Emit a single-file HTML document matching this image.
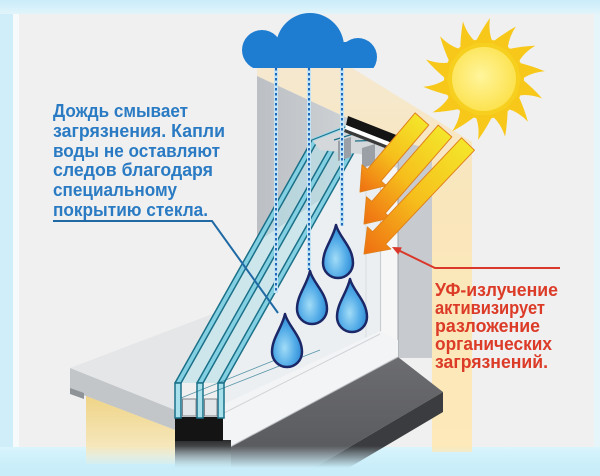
<!DOCTYPE html>
<html><head><meta charset="utf-8">
<style>
html,body{margin:0;padding:0;background:#d3effa;width:600px;height:476px;overflow:hidden}
svg{display:block}
</style></head>
<body>
<svg xmlns="http://www.w3.org/2000/svg" width="600" height="476" viewBox="0 0 600 476">
<defs>
  <linearGradient id="topband" x1="0" y1="0" x2="0" y2="14" gradientUnits="userSpaceOnUse">
    <stop offset="0" stop-color="#c9ecf9"/><stop offset="1" stop-color="#e2f4fa"/>
  </linearGradient>
  <linearGradient id="botband" x1="0" y1="447" x2="0" y2="476" gradientUnits="userSpaceOnUse">
    <stop offset="0" stop-color="#dbf5fc"/><stop offset="1" stop-color="#bce8f8"/>
  </linearGradient>
  <linearGradient id="fade" x1="0" y1="446" x2="0" y2="468" gradientUnits="userSpaceOnUse">
    <stop offset="0" stop-color="#d6f3fc" stop-opacity="0"/><stop offset="1" stop-color="#c9eefa" stop-opacity="1"/>
  </linearGradient>
  <linearGradient id="wallY" x1="0" y1="395" x2="0" y2="462" gradientUnits="userSpaceOnUse">
    <stop offset="0" stop-color="#efd486"/><stop offset="1" stop-color="#f8eccb"/>
  </linearGradient>
  <linearGradient id="beige" x1="0" y1="68" x2="0" y2="450" gradientUnits="userSpaceOnUse">
    <stop offset="0" stop-color="#f5e8cf"/><stop offset="0.35" stop-color="#f9e6ba"/><stop offset="1" stop-color="#fde9b9"/>
  </linearGradient>
  <linearGradient id="greyL" x1="257" y1="0" x2="356" y2="0" gradientUnits="userSpaceOnUse">
    <stop offset="0" stop-color="#bcc0c4"/><stop offset="1" stop-color="#cfd3d6"/>
  </linearGradient>
  <linearGradient id="sill" x1="0" y1="357" x2="0" y2="476" gradientUnits="userSpaceOnUse">
    <stop offset="0" stop-color="#6c6d71"/><stop offset="1" stop-color="#55565a"/>
  </linearGradient>
  <linearGradient id="shadow" x1="0" y1="440" x2="0" y2="468" gradientUnits="userSpaceOnUse">
    <stop offset="0" stop-color="#2a2b2d"/><stop offset="1" stop-color="#9aa0a4"/>
  </linearGradient>
  <radialGradient id="drop" cx="0.42" cy="0.64" r="0.62">
    <stop offset="0" stop-color="#a2dcf7"/><stop offset="0.55" stop-color="#55ade8"/><stop offset="1" stop-color="#2a86d2"/>
  </radialGradient>
  <radialGradient id="core" cx="0.45" cy="0.45" r="0.6">
    <stop offset="0" stop-color="#fff59c"/><stop offset="1" stop-color="#fce14a"/>
  </radialGradient>
  <linearGradient id="ga1" gradientUnits="userSpaceOnUse" x1="422" y1="119" x2="360" y2="192">
    <stop offset="0" stop-color="#f4e62a"/><stop offset="0.5" stop-color="#f6bf1c"/><stop offset="1" stop-color="#ef6e12"/>
  </linearGradient>
  <linearGradient id="ga2" gradientUnits="userSpaceOnUse" x1="445" y1="131" x2="364" y2="224">
    <stop offset="0" stop-color="#f4e62a"/><stop offset="0.5" stop-color="#f6bf1c"/><stop offset="1" stop-color="#ef6e12"/>
  </linearGradient>
  <linearGradient id="ga3" gradientUnits="userSpaceOnUse" x1="468" y1="144" x2="364" y2="254">
    <stop offset="0" stop-color="#f4e62a"/><stop offset="0.5" stop-color="#f6bf1c"/><stop offset="1" stop-color="#ef6e12"/>
  </linearGradient>
  <clipPath id="cc"><rect x="0" y="0" width="600" height="68"/></clipPath>
</defs>

<!-- background -->
<rect x="0" y="0" width="600" height="476" fill="#d0eefa"/>
<rect x="0" y="0" width="600" height="14" fill="url(#topband)"/>
<rect x="14" y="14" width="580" height="433" fill="#f0f0f0"/>
<rect x="13" y="14" width="6" height="433" fill="#f7fafb"/>
<rect x="594" y="14" width="6" height="433" fill="#e6f5fa"/>
<rect x="0" y="447" width="600" height="29" fill="url(#botband)"/>

<!-- beige wall parts -->
<polygon points="257,68 352,68 472,142 472,452 432,452 432,150 398,140 352,120 257,76" fill="url(#beige)"/>
<!-- left grey reveal -->
<polygon points="257,76 356,122 356,176 257,242" fill="url(#greyL)"/>
<!-- interior behind glass -->
<polygon points="222,383 360,140 398,147 398,345 222,425" fill="#ebeff2"/>
<!-- right frame vertical -->
<rect x="380" y="147" width="18" height="200" fill="#f6f6f6"/>
<line x1="380.5" y1="150" x2="380.5" y2="334" stroke="#c9cdd1" stroke-width="1.2"/>
<line x1="366" y1="152" x2="366" y2="338" stroke="#d9dde0" stroke-width="1"/>
<!-- right reveal grey -->
<polygon points="398,140 432,150 432,358 398,358" fill="#c7cbcf"/>
<line x1="398" y1="142" x2="398" y2="357" stroke="#9ea3a8" stroke-width="1"/>

<!-- dark inner sill -->
<polygon points="230,447 398,357 443,392 300,476 230,476" fill="url(#sill)"/>
<polygon points="443,392 443,412 335,476 300,476" fill="#3b3c3f"/>
<!-- white rail -->
<polygon points="222,405 380,331 398,340 398,357 230,447 222,447" fill="#f3f4f5"/>
<line x1="222" y1="414" x2="380" y2="334" stroke="#d0d4d8" stroke-width="1"/>
<line x1="230" y1="447" x2="398" y2="357" stroke="#b9bdc1" stroke-width="1"/>

<!-- outside sill -->
<polygon points="70,368 215,313 175,383 175,410" fill="#e4e6e8"/>
<polygon points="70,368 175,410 175,430 70,390" fill="#c3c6c9"/>
<polygon points="70,388 84,393 84,399 70,394" fill="#8e9398"/>
<polygon points="86,396 175,430 175,464 86,464" fill="url(#wallY)"/>

<!-- black block + shadow -->
<rect x="175" y="440" width="56" height="28" fill="url(#shadow)"/>
<rect x="175" y="417" width="48" height="24" fill="#141414"/>

<!-- glass band -->
<polygon points="175,383 312,140 361,140 224,383" fill="#b4e0ea" fill-opacity="0.6"/>
<g fill="#84d0e3" stroke="#1b7088" stroke-width="1.5" stroke-linejoin="round">
  <polygon points="175,383 312,140 318,140 181,383"/>
  <polygon points="197,383 334,140 340,140 203,383"/>
  <polygon points="218,383 355,140 361,140 224,383"/>
</g>
<g fill="#a8e0ec" stroke="#1b7088" stroke-width="1.5">
  <rect x="175" y="383" width="6" height="35"/>
  <rect x="197" y="383" width="6" height="35"/>
  <rect x="218" y="383" width="6" height="35"/>
</g>
<g fill="#e3e6e8" stroke="#80878c" stroke-width="1">
  <rect x="182.5" y="399" width="13.5" height="17"/>
  <rect x="204.5" y="399" width="12.5" height="17"/>
</g>
<line x1="181" y1="398" x2="300" y2="350" stroke="#1b7088" stroke-width="0.8" opacity="0.7"/>
<line x1="203" y1="396" x2="320" y2="350" stroke="#1b7088" stroke-width="0.8" opacity="0.7"/>

<!-- top frame -->
<polygon points="312,140 344,128 397,149 397,168 360,154 320,150" fill="#d4d8db"/>
<polygon points="338,141 351,137 351,157 338,161" fill="#9aa0a5"/>
<polygon points="362,148 375,144 375,164 362,168" fill="#9aa0a5"/>
<polyline points="312,140 345,127 362,134" fill="none" stroke="#9bd8ea" stroke-width="3"/>
<polyline points="312,140 345,127 362,134" fill="none" stroke="#1b7088" stroke-width="1"/>
<line x1="334" y1="140" x2="366" y2="130" stroke="#1b7088" stroke-width="1.2"/>
<line x1="355" y1="141" x2="385" y2="140" stroke="#1b7088" stroke-width="1.2"/>
<polygon points="348,116 399,136 397,145 346,125" fill="#141414"/>
<polygon points="346,125 397,145 396,149 345,129" fill="#ffffff"/>
<polygon points="345,129 396,149 395,152 344,132" fill="#3a3a3a"/>

<!-- rain dashed lines -->
<g fill="none">
  <line x1="276" y1="68" x2="276" y2="293" stroke="#c2e4f5" stroke-width="4"/>
  <line x1="309" y1="68" x2="309" y2="270" stroke="#c2e4f5" stroke-width="4"/>
  <line x1="342" y1="68" x2="342" y2="226" stroke="#c2e4f5" stroke-width="4"/>
  <line x1="276" y1="68" x2="276" y2="293" stroke="#2268b8" stroke-width="2" stroke-dasharray="2.5 2.5"/>
  <line x1="309" y1="68" x2="309" y2="270" stroke="#2268b8" stroke-width="2" stroke-dasharray="2.5 2.5"/>
  <line x1="342" y1="68" x2="342" y2="226" stroke="#2268b8" stroke-width="2" stroke-dasharray="2.5 2.5"/>
</g>

<!-- drops -->
<g fill="url(#drop)" stroke="#1b2766" stroke-width="2.5" stroke-linejoin="round">
  <path transform="translate(338 261)" d="M -2,-36 C 1,-24 15,-14 15,2 A 15,15 0 0 1 -15,2 C -15,-12 -5,-22 -2,-36 Z"/>
  <path transform="translate(312 307)" d="M -2,-36 C 1,-24 15,-14 15,2 A 15,15 0 0 1 -15,2 C -15,-12 -5,-22 -2,-36 Z"/>
  <path transform="translate(352 315)" d="M -2,-36 C 1,-24 15,-14 15,2 A 15,15 0 0 1 -15,2 C -15,-12 -5,-22 -2,-36 Z"/>
  <path transform="translate(287 350)" d="M -2,-36 C 1,-24 15,-14 15,2 A 15,15 0 0 1 -15,2 C -15,-12 -5,-22 -2,-36 Z"/>
</g>

<!-- sun arrows -->
<g stroke="#e0801a" stroke-width="1" stroke-linejoin="round">
  <polygon fill="url(#ga1)" points="415.1,112.9 367.4,169.4 362.0,164.8 360,192 386.3,185.6 381.0,181.0 428.8,125.1"/>
  <polygon fill="url(#ga2)" points="438.2,125.1 371.8,201.5 366.4,196.9 364,224 390.6,217.9 385.2,213.3 451.8,136.9"/>
  <polygon fill="url(#ga3)" points="461.5,137.8 372.6,231.8 367.4,227.0 364,254 390.8,249.0 385.6,244.2 474.5,150.2"/>
</g>

<!-- sun -->
<g transform="translate(484 79)">
  <circle r="40" fill="#f7cf1e"/>
  <g fill="#f7c81a">
    <path d="M -9,-36 Q -2,-50 6,-61 Q 4,-47 9,-36 Z"/>
    <path transform="rotate(25.7)" d="M -9,-36 Q -2,-50 6,-61 Q 4,-47 9,-36 Z"/>
    <path transform="rotate(51.4)" d="M -9,-36 Q -2,-50 6,-61 Q 4,-47 9,-36 Z"/>
    <path transform="rotate(77.1)" d="M -9,-36 Q -2,-50 6,-61 Q 4,-47 9,-36 Z"/>
    <path transform="rotate(102.9)" d="M -9,-36 Q -2,-50 6,-61 Q 4,-47 9,-36 Z"/>
    <path transform="rotate(128.6)" d="M -9,-36 Q -2,-50 6,-61 Q 4,-47 9,-36 Z"/>
    <path transform="rotate(154.3)" d="M -9,-36 Q -2,-50 6,-61 Q 4,-47 9,-36 Z"/>
    <path transform="rotate(180)" d="M -9,-36 Q -2,-50 6,-61 Q 4,-47 9,-36 Z"/>
    <path transform="rotate(205.7)" d="M -9,-36 Q -2,-50 6,-61 Q 4,-47 9,-36 Z"/>
    <path transform="rotate(231.4)" d="M -9,-36 Q -2,-50 6,-61 Q 4,-47 9,-36 Z"/>
    <path transform="rotate(257.1)" d="M -9,-36 Q -2,-50 6,-61 Q 4,-47 9,-36 Z"/>
    <path transform="rotate(282.9)" d="M -9,-36 Q -2,-50 6,-61 Q 4,-47 9,-36 Z"/>
    <path transform="rotate(308.6)" d="M -9,-36 Q -2,-50 6,-61 Q 4,-47 9,-36 Z"/>
    <path transform="rotate(334.3)" d="M -9,-36 Q -2,-50 6,-61 Q 4,-47 9,-36 Z"/>
  </g>
  <circle r="32" fill="url(#core)"/>
</g>

<!-- cloud -->
<g clip-path="url(#cc)" fill="#1e7dd0">
  <circle cx="262" cy="50" r="20"/>
  <circle cx="310" cy="47" r="34"/>
  <circle cx="358" cy="57" r="19"/>
  <rect x="262" y="42" width="96" height="30"/>
</g>

<!-- bottom fade -->
<rect x="0" y="446" width="600" height="30" fill="url(#fade)"/>

<!-- blue label -->
<g font-family="'Liberation Sans', Arial, sans-serif" font-size="18" font-weight="bold" fill="#2a7bc3">
  <text x="53" y="117" textLength="135" lengthAdjust="spacingAndGlyphs">Дождь смывает</text>
  <text x="53" y="137" textLength="172" lengthAdjust="spacingAndGlyphs">загрязнения. Капли</text>
  <text x="53" y="157" textLength="167" lengthAdjust="spacingAndGlyphs">воды не оставляют</text>
  <text x="53" y="176" textLength="160" lengthAdjust="spacingAndGlyphs">следов благодаря</text>
  <text x="53" y="196" textLength="124" lengthAdjust="spacingAndGlyphs">специальному</text>
  <text x="53" y="216" textLength="155" lengthAdjust="spacingAndGlyphs">покрытию стекла.</text>
</g>
<polyline points="53,221 212,221 278,313" fill="none" stroke="#1f6aa5" stroke-width="2"/>

<!-- red label -->
<g font-family="'Liberation Sans', Arial, sans-serif" font-size="18" font-weight="bold" fill="#dc3b28">
  <text x="435" y="296" textLength="123" lengthAdjust="spacingAndGlyphs">УФ-излучение</text>
  <text x="435" y="314" textLength="110" lengthAdjust="spacingAndGlyphs">активизирует</text>
  <text x="435" y="332" textLength="105" lengthAdjust="spacingAndGlyphs">разложение</text>
  <text x="435" y="350" textLength="117" lengthAdjust="spacingAndGlyphs">органических</text>
  <text x="435" y="368" textLength="113" lengthAdjust="spacingAndGlyphs">загрязнений.</text>
</g>
<polyline points="560,268 435,268 398,250" fill="none" stroke="#d9382a" stroke-width="2"/>
<polygon points="392,247 401.9,247.4 398.3,254.6" fill="#d9382a"/>
</svg>
</body></html>
